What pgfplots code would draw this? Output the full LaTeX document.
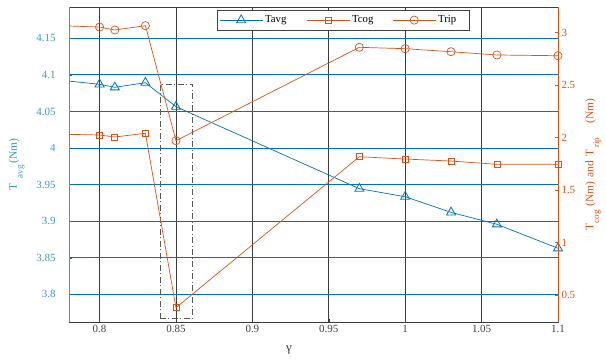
\documentclass[border=0pt]{standalone}
\usepackage{fontspec}
\setmainfont{Liberation Serif}
\usepackage{pgfplots}
\pgfplotsset{compat=1.18}
\definecolor{mblue}{RGB}{0,114,189}
\definecolor{mbluelight}{RGB}{60,150,210}
\definecolor{morange}{RGB}{217,83,25}
\definecolor{gridgray}{RGB}{60,60,60}

% subscript lowered well below the baseline
\newcommand{\lsub}[1]{\raisebox{-1.1ex}{\fontsize{9}{10}\selectfont #1}}

\begin{document}
\begin{tikzpicture}
\pgfplotsset{
  every axis/.append style={
    scale only axis, width=489bp, height=315bp,
    xmin=0.78, xmax=1.1,
    font=\fontsize{11}{13}\selectfont,
    /pgf/number format/assume math mode=true,
    tick align=inside, major tick length=3bp,
  },
  tavgstyle/.style={mblue, line width=0.7bp, mark=triangle, mark size=5.2bp, mark options={solid, line width=0.8bp}},
  tcogstyle/.style={morange, line width=0.7bp, mark=square, mark size=3bp, mark options={solid, line width=0.7bp}},
  tripstyle/.style={morange, line width=0.7bp, mark=o, mark size=4.1bp, mark options={solid, line width=0.7bp}},
}

% Left axis: average torque, with the x axis and the grid
\begin{axis}[
  ymin=3.7621, ymax=4.1928,
  xtick={0.8,0.85,0.9,0.95,1,1.05,1.1},
  ytick={3.8,3.85,3.9,3.95,4,4.05,4.1,4.15},
  ytick pos=left, xtick pos=left,
  xmajorgrids, ymajorgrids,
  x grid style={gridgray, line width=0.8bp},
  y grid style={mblue, line width=1bp},
  axis line style={gridgray, line width=0.8bp},
  xticklabel style={text=black!75},
  yticklabel style={text=mbluelight},
  yticklabel shift=10bp,
  xtick style={gridgray},
  ytick style={mblue},
  xlabel={γ},
  xlabel style={at={(axis description cs:0.45,-0.089)}, anchor=center, text=black!75, font=\fontsize{13}{14}\selectfont},
  ylabel={T\hspace{5bp}\lsub{avg}\hspace{2bp}(Nm)},
  ylabel style={at={(axis description cs:-0.107,0.5)}, anchor=center, text=mbluelight, font=\fontsize{11.5}{13}\selectfont},
]
\addplot[tavgstyle] coordinates {
  (0.75,4.098) (0.80,4.0871) (0.81,4.0830) (0.83,4.0893) (0.85,4.0565)
  (0.97,3.9444) (1.00,3.9334) (1.03,3.9120) (1.06,3.8957) (1.10,3.8629)
};
\draw[black!65, line width=0.8bp, dash pattern=on 6bp off 2.5bp on 1bp off 2.5bp]
  (axis cs:0.8398,3.7664) rectangle (axis cs:0.8606,4.0875);
\draw[mbluelight, line width=1.6bp] (rel axis cs:0,0) -- (rel axis cs:0,1);
\end{axis}

% Right axis: cogging torque and torque ripple
\begin{axis}[
  ymin=0.243, ymax=3.243,
  axis y line*=right, axis x line=none,
  ytick={0.5,1,1.5,2,2.5,3},
  axis line style={morange, line width=0.8bp},
  yticklabel style={text=morange},
  ytick style={morange},
  ylabel={T\lsub{cog}\hspace{4bp}(Nm)\hspace{4bp}and\hspace{4bp}T\hspace{2bp}\lsub{rip}\hspace{14bp}(Nm)},
  ylabel style={at={(axis description cs:1.072,0.5)}, anchor=center, text=morange, font=\fontsize{11.5}{13}\selectfont},
  legend style={at={(axis description cs:0.3027,0.9905)}, anchor=north west,
    draw=black!75, fill=white, line width=0.6bp, legend columns=3,
    inner xsep=2bp, inner ysep=3.5bp,
    /tikz/every even column/.append style={column sep=14bp},
    font=\fontsize{10.8}{12}\selectfont, cells={anchor=west}},
  legend image code/.code={\draw[mark repeat=2,mark phase=2,#1] plot coordinates {(0bp,0bp) (21.5bp,0bp) (43bp,0bp)};},
]
\addlegendimage{tavgstyle}
\addlegendentry{Tavg\kern4bp}
\addplot[tcogstyle] coordinates {
  (0.75,2.039) (0.80,2.024) (0.81,2.005) (0.83,2.040) (0.85,0.379)
  (0.97,1.817) (1.00,1.795) (1.03,1.776) (1.06,1.745) (1.10,1.745)
};
\addlegendentry{Tcog\kern3bp}
\addplot[tripstyle] coordinates {
  (0.75,3.077) (0.80,3.052) (0.81,3.024) (0.83,3.065) (0.85,1.970)
  (0.97,2.859) (1.00,2.846) (1.03,2.817) (1.06,2.786) (1.10,2.779)
};
\addlegendentry{Trip\kern9bp}
\end{axis}
\pgfresetboundingbox
\path (-69bp,-40bp) rectangle (537bp,322bp);
\end{tikzpicture}
\end{document}
